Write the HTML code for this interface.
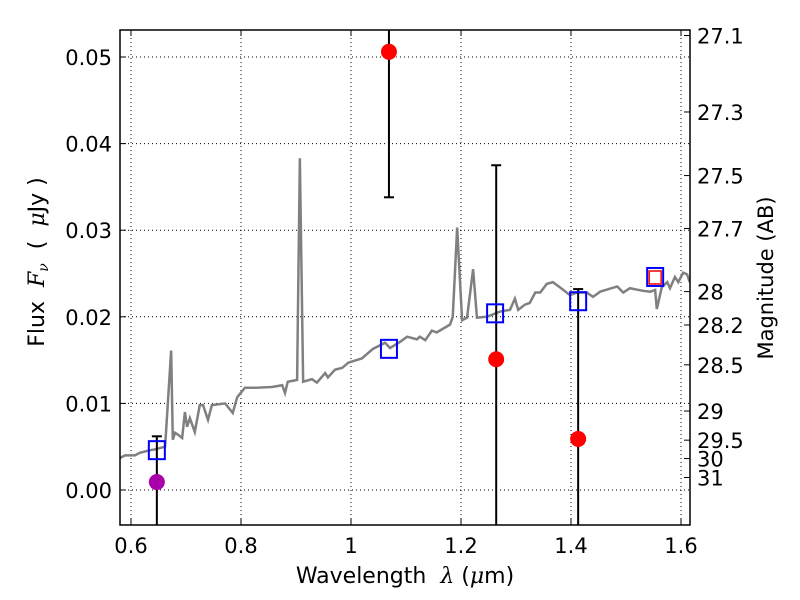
<!DOCTYPE html>
<html><head><meta charset="utf-8"><style>
body{margin:0;background:#fff;}
svg{display:block;font-family:"DejaVu Sans","Liberation Sans",sans-serif;}
text{white-space:pre;}
</style></head><body>
<svg id="c" width="800" height="600"></svg>
<script>
const specLam=[0.58,0.589,0.607,0.616,0.635,0.644,0.662,0.673,0.676,0.68,0.685,0.693,0.698,0.702,0.707,0.716,0.725,0.731,0.74,0.747,0.771,0.785,0.793,0.807,0.825,0.856,0.875,0.88,0.885,0.902,0.907,0.913,0.929,0.938,0.953,0.958,0.971,0.984,0.995,1.02,1.04,1.062,1.071,1.089,1.102,1.12,1.125,1.135,1.147,1.156,1.18,1.185,1.193,1.202,1.211,1.222,1.229,1.247,1.271,1.289,1.298,1.304,1.316,1.325,1.335,1.344,1.356,1.367,1.38,1.398,1.411,1.429,1.44,1.453,1.484,1.495,1.507,1.531,1.544,1.553,1.556,1.565,1.575,1.58,1.589,1.595,1.604,1.611,1.616];
const specFlux=[0.0037,0.0040,0.0040,0.0043,0.0046,0.0047,0.0050,0.0161,0.0058,0.0066,0.0064,0.0060,0.0090,0.0073,0.0083,0.0067,0.0098,0.0098,0.0081,0.0098,0.0100,0.0089,0.0107,0.0118,0.0118,0.0119,0.0121,0.0112,0.0125,0.0127,0.0383,0.0125,0.0128,0.0124,0.0135,0.0130,0.0139,0.0141,0.0147,0.0152,0.0163,0.0170,0.0164,0.0171,0.0177,0.0174,0.0177,0.0173,0.0184,0.0182,0.0191,0.0200,0.0303,0.0196,0.0199,0.0255,0.0199,0.0200,0.0206,0.0208,0.0221,0.0208,0.0214,0.0216,0.0228,0.0228,0.0238,0.0240,0.0234,0.0225,0.0228,0.0228,0.0223,0.0229,0.0235,0.0228,0.0233,0.0230,0.0229,0.0231,0.0209,0.0234,0.0240,0.0233,0.0246,0.0240,0.0251,0.0249,0.0240];
const obsLam=[1.069,1.264,1.413];
const obsFlux=[0.0506,0.0151,0.0059];
const obsErrHi=[0.0600,0.0375,0.0232];
const obsErrLo=[0.0338,-0.01,-0.01];
const modLam=[0.647,1.069,1.262,1.413,1.553];
const modFlux=[0.0046,0.0163,0.0204,0.0218,0.0246];
const purpleLam=[0.647];const purpleFlux=[0.00092];
const purpleErrHi=[0.0062];
const xTicks=[0.6,0.8,1.0,1.2,1.4,1.6];
const xTickLabels=["0.6","0.8","1","1.2","1.4","1.6"];
const yTicks=[0,0.01,0.02,0.03,0.04,0.05];
const yTickLabels=["0.00","0.01","0.02","0.03","0.04","0.05"];
const magTicks=[27.1,27.3,27.5,27.7,28,28.2,28.5,29,29.5,30,31];
const magLabels=["27.1","27.3","27.5","27.7","28","28.2","28.5","29","29.5","30","31"];

const L=120,R=690,T=30,B=525;
const X=v=>131+(v-0.6)*550;
const Y=v=>490-v*8660;
const svg=document.getElementById('c');
const NS='http://www.w3.org/2000/svg';
function mk(tag,a,parent){const e=document.createElementNS(NS,tag);for(const k in a)e.setAttribute(k,a[k]);(parent||svg).appendChild(e);return e;}
const defs=mk('defs',{});const cp=mk('clipPath',{id:'cl'},defs);mk('rect',{x:L,y:T,width:R-L,height:B-T},cp);
xTicks.forEach((t,i)=>{const g=mk('line',{x1:X(t),x2:X(t),y1:T,y2:B,stroke:'#000','stroke-dasharray':'1,3','stroke-width':1});

mk('line',{x1:X(t),x2:X(t),y1:B,y2:B-6,stroke:'#000'});mk('line',{x1:X(t),x2:X(t),y1:T,y2:T+6,stroke:'#000'});
const tx=mk('text',{x:X(t),y:B+28,'font-size':21,'text-anchor':'middle'});tx.textContent=xTickLabels[i];
});
yTicks.forEach((t,i)=>{const g=mk('line',{x1:L,x2:R,y1:Y(t),y2:Y(t),stroke:'#000','stroke-dasharray':'1,3','stroke-width':1});

mk('line',{x1:L,x2:L+6,y1:Y(t),y2:Y(t),stroke:'#000'});
const tx=mk('text',{x:L-8,y:Y(t)+8,'font-size':21,'text-anchor':'end'});tx.textContent=yTickLabels[i];
});
magTicks.forEach((m,i)=>{const f=Math.pow(10,(23.9-m)/2.5);const y=Y(f);
mk('line',{x1:R,x2:R-6,y1:y,y2:y,stroke:'#000'});
const tx=mk('text',{x:R+7,y:y+8,'font-size':21});tx.textContent=magLabels[i];
});
const g=mk('g',{'clip-path':'url(#cl)'});
const sp=mk('polyline',{points:specLam.map((l,i)=>X(l)+','+Y(specFlux[i])).join(' '),fill:'none',stroke:'#808080','stroke-width':2.5},g);

function err(l,hi,lo,capHi,capLo){mk('line',{x1:X(l),x2:X(l),y1:Y(hi),y2:Y(lo),stroke:'#000','stroke-width':2},g);
if(capHi)mk('line',{x1:X(l)-5,x2:X(l)+5,y1:Y(hi),y2:Y(hi),stroke:'#000','stroke-width':2},g);
if(capLo)mk('line',{x1:X(l)-5,x2:X(l)+5,y1:Y(lo),y2:Y(lo),stroke:'#000','stroke-width':2},g);}
purpleLam.forEach((l,i)=>err(l,purpleErrHi[i],-0.01,true,false));
obsLam.forEach((l,i)=>err(l,obsErrHi[i],obsErrLo[i],obsErrHi[i]<0.053,obsErrLo[i]>-0.004));
modLam.forEach((l,i)=>{const r=mk('rect',{x:X(l)-8,y:Y(modFlux[i])-9,width:16,height:18,fill:'none',stroke:'#0000ff','stroke-width':2},g);
});
const rs=mk('rect',{x:X(modLam[4])-6,y:Y(modFlux[4])-6,width:12,height:13,fill:'none',stroke:'#ff0000','stroke-width':1.5},g);

obsLam.forEach((l,i)=>{const c=mk('circle',{cx:X(l),cy:Y(obsFlux[i]),r:8,fill:'#ff0000'},g);
});
purpleLam.forEach((l,i)=>{const c=mk('circle',{cx:X(l),cy:Y(purpleFlux[i]),r:8,fill:'#aa00aa'},g);
});
const fr=mk('rect',{x:L,y:T,width:R-L,height:B-T,fill:'none',stroke:'#000','stroke-width':1.5});

const xl=mk('text',{x:405,y:583,'font-size':22,'text-anchor':'middle'});xl.innerHTML='Wavelength  <tspan font-style="italic" font-family="DejaVu Serif">λ</tspan> (<tspan font-style="italic" font-family="DejaVu Serif">μ</tspan>m)';

const yl=mk('text',{x:0,y:0,'font-size':22,'text-anchor':'middle',transform:'translate(44,262) rotate(-90)'});yl.innerHTML='Flux  <tspan font-style="italic" font-family="DejaVu Serif">F<tspan font-size="14" dy="4">ν</tspan></tspan><tspan dy="-4">  (  </tspan><tspan font-style="italic" font-family="DejaVu Serif">μ</tspan>Jy )';

const ml=mk('text',{x:0,y:0,'font-size':21,'text-anchor':'middle',transform:'translate(773,278) rotate(-90)'});ml.textContent='Magnitude (AB)';

</script>
</body></html>
